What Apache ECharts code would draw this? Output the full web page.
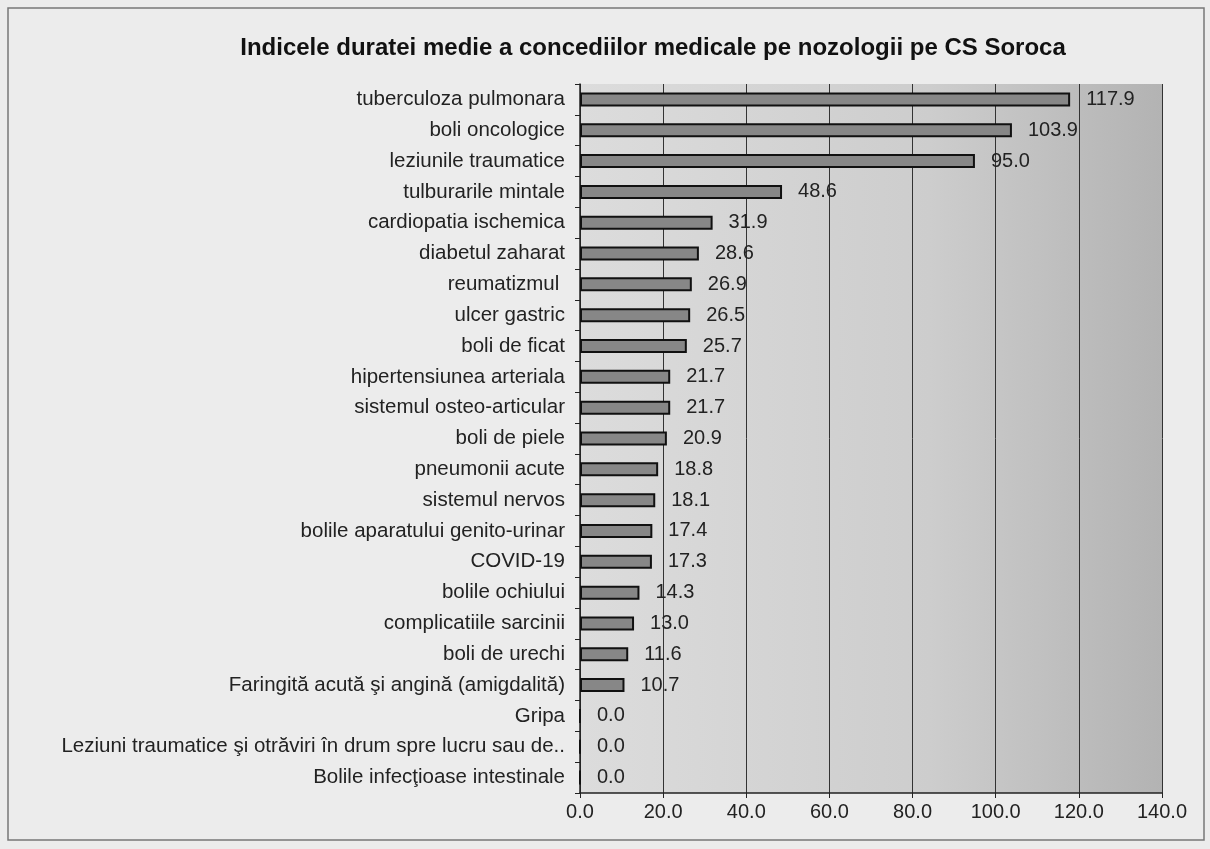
<!DOCTYPE html>
<html>
<head>
<meta charset="utf-8">
<script src="https://cdn.jsdelivr.net/npm/echarts@6/dist/echarts.min.js"></script>
<style>html,body{margin:0;padding:0;background:#ececec;}#c{width:1210px;height:849px;}</style>
</head>
<body>
<div id="c"></div>
<script>
var categories = [
  'tuberculoza pulmonara','boli oncologice','leziunile traumatice','tulburarile mintale',
  'cardiopatia ischemica','diabetul zaharat','reumatizmul ','ulcer gastric','boli de ficat',
  'hipertensiunea arteriala','sistemul osteo-articular','boli de piele','pneumonii acute',
  'sistemul nervos','bolile aparatului genito-urinar','COVID-19','bolile ochiului',
  'complicatiile sarcinii','boli de urechi','Faringită acută şi angină (amigdalită)','Gripa',
  'Leziuni traumatice şi otrăviri în drum spre lucru sau de..','Bolile infecţioase intestinale'
];
var values = [117.9,103.9,95.0,48.6,31.9,28.6,26.9,26.5,25.7,21.7,21.7,20.9,18.8,18.1,17.4,17.3,14.3,13.0,11.6,10.7,0.0,0.0,0.0];
var xTicks = {min:0, max:140, interval:20};

var chart = echarts.init(document.getElementById('c'), null, {renderer:'canvas'});
chart.setOption({
  backgroundColor:'#ececec',
  animation:false,
  textStyle:{fontFamily:'Liberation Sans, Arial, sans-serif'},
  title:{
    text:'Indicele duratei medie a concediilor medicale pe nozologii pe CS Soroca',
    left:648, top:31, textAlign:'center',
    textStyle:{fontSize:24, fontWeight:'bold', color:'#111', fontFamily:'Liberation Sans, Arial, sans-serif'}
  },
  graphic:[{
    type:'rect', shape:{x:8,y:8,width:1196,height:832},
    style:{fill:'none', stroke:'#777', lineWidth:1.5}, silent:true, z:-1
  }],
  grid:{left:580, right:48, top:84, bottom:56, show:true, borderWidth:0,
    backgroundColor:{type:'linear',x:0,y:0,x2:1,y2:0,colorStops:[{offset:0,color:'#dcdcdc'},{offset:0.6,color:'#cdcdcd'},{offset:1,color:'#b3b3b3'}]}
  },
  xAxis:{
    type:'value', min:xTicks.min, max:xTicks.max, interval:xTicks.interval,
    axisLine:{show:true, lineStyle:{color:'#222', width:1.5}},
    axisTick:{show:true, length:5, inside:false, lineStyle:{color:'#222'}},
    axisLabel:{formatter:function(v){return v.toFixed(1);}, fontSize:20, color:'#222', margin:9},
    splitLine:{show:true, lineStyle:{color:'#333', width:1}}
  },
  yAxis:{
    type:'category', data:categories, inverse:true,
    axisLine:{show:true, lineStyle:{color:'#222', width:1.5}},
    axisTick:{show:true, length:5, lineStyle:{color:'#222'}},
    axisLabel:{fontSize:20.5, color:'#222', margin:15}
  },
  series:[{
    type:'bar', data:values, barWidth:14,
    itemStyle:{color:'#878787', borderColor:'#111', borderWidth:2},
    label:{show:true, position:'right', distance:16, fontSize:20, color:'#222',
      formatter:function(p){return p.value.toFixed(1);}}
  }]
});
</script>
</body>
</html>
